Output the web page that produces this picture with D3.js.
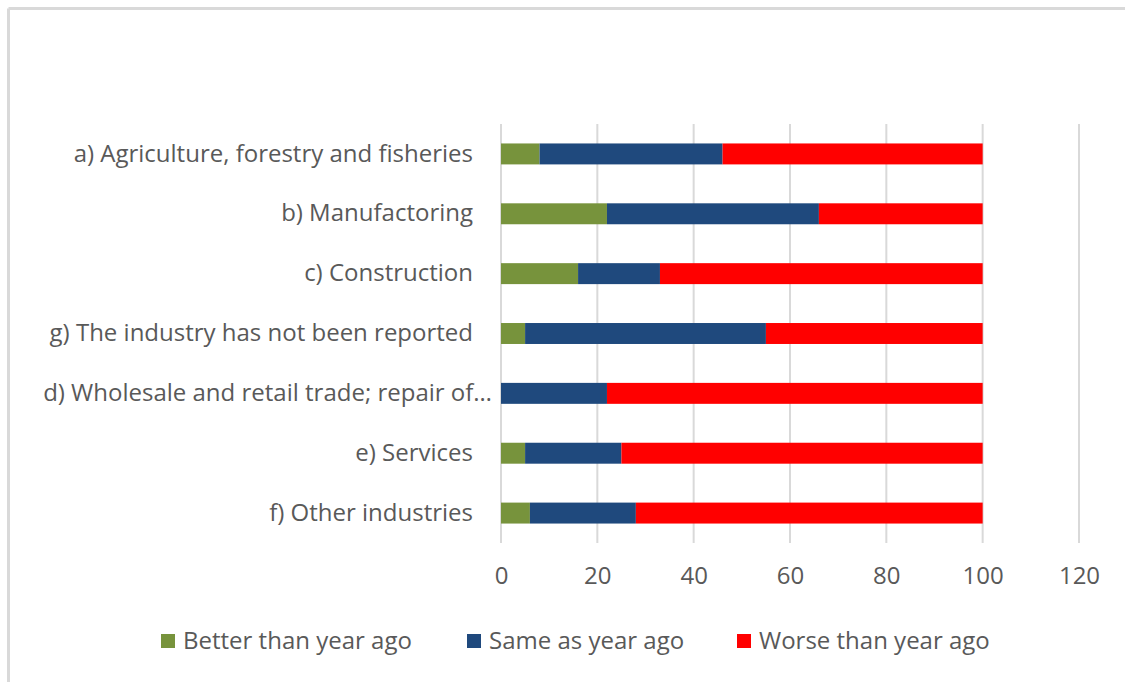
<!DOCTYPE html>
<html>
<head>
<meta charset="utf-8">
<script src="https://cdn.jsdelivr.net/npm/d3@7"></script>
<style>
  html, body { margin: 0; padding: 0; background: #fff; }
  svg { display: block; font-family: "Open Sans", Lato, sans-serif; }
</style>
</head>
<body>
<svg id="chart" width="1125" height="682"></svg>
<script>
// Industry categories, top to bottom
const categories = [
  "a) Agriculture, forestry and fisheries",
  "b) Manufactoring",
  "c) Construction",
  "g) The industry has not been reported",
  "d) Wholesale and retail trade; repair of…",
  "e) Services",
  "f) Other industries"
];
// Share of respondents (%) per assessment
const better = [8, 22, 16, 5, 0, 5, 6];
const same   = [38, 44, 17, 50, 22, 20, 22];
const worse  = [54, 34, 67, 45, 78, 75, 72];

const seriesNames = ["Better than year ago", "Same as year ago", "Worse than year ago"];
const seriesColors = ["#77933c", "#1f497d", "#ff0000"];
const xTicks = [0, 20, 40, 60, 80, 100, 120];

const rows = categories.map((c, i) => ({ cat: c, better: better[i], same: same[i], worse: worse[i] }));
const keys = ["better", "same", "worse"];
const stacked = d3.stack().keys(keys)(rows);

const svg = d3.select("#chart");
const textColor = "#595959";
const fontSize = 24;

// Outer chart frame (top and left edges)
svg.append("line").attr("x1", 8.5).attr("x2", 1125).attr("y1", 8.5).attr("y2", 8.5)
  .attr("stroke", "#d9d9d9").attr("stroke-width", 3);
svg.append("line").attr("x1", 8.5).attr("x2", 8.5).attr("y1", 8.5).attr("y2", 682)
  .attr("stroke", "#d9d9d9").attr("stroke-width", 3);

const plot = { left: 501, right: 1079, top: 124, bottom: 543 };

const x = d3.scaleLinear().domain([0, 120]).range([plot.left, plot.right]);
const y = d3.scaleBand().domain(categories).range([plot.top, plot.bottom]).paddingInner(0.65).paddingOuter(0.325);

// Vertical gridlines
svg.append("g").selectAll("line").data(xTicks).join("line")
  .attr("x1", d => x(d)).attr("x2", d => x(d))
  .attr("y1", plot.top).attr("y2", plot.bottom)
  .attr("stroke", "#d9d9d9").attr("stroke-width", 2);

// Stacked bars
svg.append("g").selectAll("g").data(stacked).join("g")
  .attr("fill", (d, i) => seriesColors[i])
  .selectAll("rect").data(d => d).join("rect")
  .attr("x", d => x(d[0]))
  .attr("width", d => x(d[1]) - x(d[0]))
  .attr("y", d => y(d.data.cat))
  .attr("height", y.bandwidth());

// X axis labels
const xAxis = svg.append("g").attr("transform", `translate(0,${plot.bottom})`)
  .call(d3.axisBottom(x).tickValues(xTicks).tickSize(0).tickPadding(24));
xAxis.select(".domain").remove();
xAxis.selectAll("text").attr("fill", textColor).attr("font-size", fontSize)
  .attr("font-family", "'Open Sans', Lato, sans-serif");

// Category labels (the truncated label runs closer to the axis)
const yAxis = svg.append("g").attr("transform", `translate(${plot.left},0)`)
  .call(d3.axisLeft(y).tickSize(0).tickPadding(28));
yAxis.select(".domain").remove();
yAxis.selectAll("text").attr("fill", textColor).attr("font-size", fontSize)
  .attr("font-family", "'Open Sans', Lato, sans-serif")
  .attr("dx", d => d.endsWith("…") ? 19 : 0);

// Legend
const legendX = [161, 467, 737];
const legend = svg.append("g");
seriesNames.forEach((name, i) => {
  legend.append("rect").attr("x", legendX[i]).attr("y", 634).attr("width", 14).attr("height", 14)
    .attr("fill", seriesColors[i]);
  legend.append("text").attr("x", legendX[i] + 22).attr("y", 641).attr("dy", "0.35em")
    .attr("fill", textColor).attr("font-size", fontSize).text(name);
});
</script>
</body>
</html>
